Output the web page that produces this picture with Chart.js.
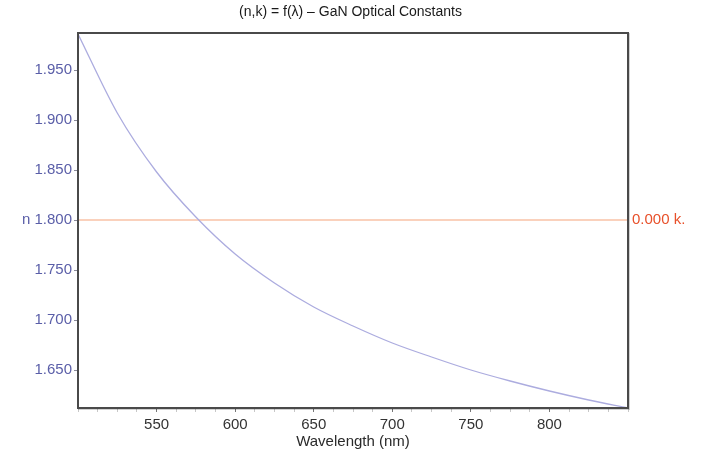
<!DOCTYPE html>
<html>
<head>
<meta charset="utf-8">
<title>GaN Optical Constants</title>
<script src="https://cdn.jsdelivr.net/npm/chart.js@4/dist/chart.umd.min.js"></script>
<style>
  html, body { margin: 0; padding: 0; background: #ffffff; }
  #wrap { width: 701px; height: 453px; }
</style>
</head>
<body>
<div id="wrap"><canvas id="chart" width="701" height="453"></canvas></div>
<script>
// Refractive index n of GaN versus wavelength
const wavelengths = [500, 525, 550, 575, 600, 625, 650, 675, 700, 725, 750, 775, 800, 825, 850];
const nValues     = [1.986, 1.907, 1.848, 1.803, 1.766, 1.737, 1.713, 1.694, 1.677, 1.663, 1.650, 1.639, 1.629, 1.620, 1.612];

// Extinction coefficient k (flat at zero over the range)
const kWavelengths = [500, 850];
const kValues      = [0.000, 0.000];

// Axis ranges and tick labels
const xRange   = [500, 850];
const xTicks   = [550, 600, 650, 700, 750, 800];
const xMinorStep = 12.5;
const nRange   = [1.612, 1.987];
const nTicks   = [1.650, 1.700, 1.750, 1.800, 1.850, 1.900, 1.950];
const nLabelled = 1.800;   // n value carrying the "n" prefix and the k reference
const kTicks   = [0.000];

const FONT = "'Liberation Sans', Arial, Helvetica, sans-serif";

// k axis shares its zero with n = 1.800 on the left axis
const kRange = [nRange[0] - nLabelled, nRange[1] - nLabelled];

const minorX = [];
for (let v = xRange[0]; v <= xRange[1] + 1e-9; v += xMinorStep) minorX.push(v);

const frame = {
  id: 'frame',
  afterDatasetsDraw(chart) {
    const a = chart.chartArea, ctx = chart.ctx;
    ctx.save();
    ctx.strokeStyle = 'rgba(0,0,0,0.18)';
    ctx.lineWidth = 1;
    ctx.strokeRect(a.left + 0.5, a.top + 0.5, a.right - a.left + 1, a.bottom - a.top + 1);
    ctx.strokeStyle = '#4a4a4a';
    ctx.lineWidth = 2;
    ctx.strokeRect(a.left, a.top, a.right - a.left, a.bottom - a.top);
    ctx.restore();
  }
};

new Chart(document.getElementById('chart'), {
  type: 'line',
  data: {
    datasets: [
      {
        label: 'n',
        data: wavelengths.map((w, i) => ({ x: w, y: nValues[i] })),
        yAxisID: 'y',
        borderColor: '#acacdf',
        borderWidth: 1.3,
        pointRadius: 0,
        cubicInterpolationMode: 'monotone',
        fill: false
      },
      {
        label: 'k',
        data: kWavelengths.map((w, i) => ({ x: w, y: kValues[i] })),
        yAxisID: 'k',
        borderColor: '#f8c2a6',
        borderWidth: 1.5,
        pointRadius: 0,
        fill: false
      }
    ]
  },
  plugins: [frame],
  options: {
    responsive: false,
    animation: false,
    layout: { padding: 0 },
    plugins: {
      legend: { display: false },
      tooltip: { enabled: false },
      title: {
        display: true,
        text: '(n,k) = f(\u03bb) \u2013 GaN Optical Constants',
        color: '#1a1a1a',
        font: { family: FONT, size: 14, weight: 'normal', lineHeight: 1.2 },
        padding: { top: 4, bottom: 12.2 }
      }
    },
    scales: {
      x: {
        type: 'linear',
        position: 'bottom',
        min: xRange[0],
        max: xRange[1],
        afterBuildTicks(axis) { axis.ticks = minorX.map(v => ({ value: v })); },
        afterFit(axis) { axis.height = 45; },
        border: { display: false },
        grid: {
          drawOnChartArea: false,
          tickLength: 4,
          color: c => xTicks.includes(c.tick && c.tick.value) ? '#777777' : '#c8c8c8'
        },
        ticks: {
          autoSkip: false,
          maxRotation: 0,
          padding: 4,
          color: '#333333',
          font: { family: FONT, size: 15 },
          callback: v => xTicks.includes(v) ? String(v) : ''
        },
        title: {
          display: true,
          text: 'Wavelength (nm)',
          color: '#2a2a2a',
          font: { family: FONT, size: 15, lineHeight: 1.2 },
          padding: { top: 0, bottom: 2 }
        }
      },
      y: {
        type: 'linear',
        position: 'left',
        min: nRange[0],
        max: nRange[1],
        afterBuildTicks(axis) { axis.ticks = nTicks.map(v => ({ value: v })); },
        afterFit(axis) { axis.width = 78; },
        border: { display: false },
        grid: { drawOnChartArea: false, tickLength: 4, color: '#8a8a9a' },
        ticks: {
          padding: 2,
          color: '#5a5ea8',
          font: { family: FONT, size: 15 },
          callback: v => (Math.abs(v - nLabelled) < 1e-9 ? 'n ' : '') + v.toFixed(3)
        }
      },
      k: {
        type: 'linear',
        position: 'right',
        min: kRange[0],
        max: kRange[1],
        afterBuildTicks(axis) { axis.ticks = kTicks.map(v => ({ value: v })); },
        afterFit(axis) { axis.width = 73; },
        border: { display: false },
        grid: { display: false, drawOnChartArea: false, drawTicks: false },
        ticks: {
          padding: 4,
          color: '#e8502a',
          font: { family: FONT, size: 15 },
          callback: v => v.toFixed(3) + ' k.'
        }
      }
    }
  }
});
</script>
</body>
</html>
